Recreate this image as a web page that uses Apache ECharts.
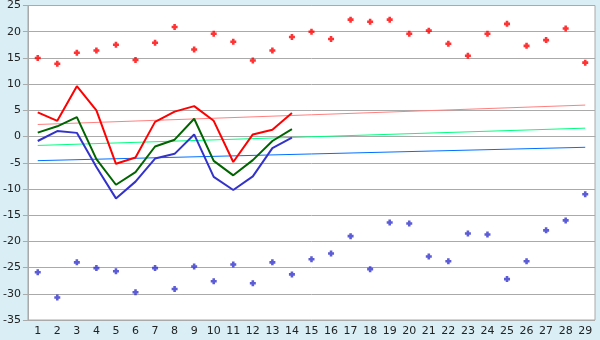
<!DOCTYPE html>
<html><head><meta charset="utf-8">
<script src="https://cdn.jsdelivr.net/npm/echarts@6/dist/echarts.min.js"></script>
<style>html,body{margin:0;padding:0;background:#d9eef5;}#c{width:600px;height:340px;}</style>
</head><body><div id="c"></div>
<script>
var categories = ['1','2','3','4','5','6','7','8','9','10','11','12','13','14','15','16','17','18','19','20','21','22','23','24','25','26','27','28','29'];
var maxPoints = [15.0,13.9,16.0,16.4,17.5,14.6,17.9,20.9,16.6,19.6,18.1,14.5,16.4,19.0,20.0,18.6,22.3,21.9,22.3,19.6,20.2,17.7,15.4,19.6,21.5,17.3,18.4,20.6,14.1];
var minPoints = [-25.9,-30.7,-24.0,-25.1,-25.7,-29.7,-25.1,-29.1,-24.8,-27.6,-24.4,-28.0,-24.0,-26.3,-23.4,-22.3,-19.0,-25.3,-16.4,-16.6,-22.9,-23.8,-18.5,-18.7,-27.2,-23.8,-17.9,-16.0,-11.0];
var redLine = [4.6,3.0,9.6,5.0,-5.2,-4.0,2.8,4.75,5.8,3.0,-4.85,0.4,1.3,4.5];
var greenLine = [0.75,1.95,3.7,-4.3,-9.2,-6.8,-1.9,-0.6,3.4,-4.65,-7.4,-4.5,-0.85,1.4];
var blueLine = [-0.85,1.05,0.7,-5.8,-11.8,-8.6,-4.2,-3.3,0.4,-7.7,-10.2,-7.6,-2.2,-0.2];
var trendRed = [2.3,6.0];
var trendGreen = [-1.7,1.6];
var trendBlue = [-4.6,-2.05];
var yTicks = {min:-35,max:25,interval:5};

function trend(arr){return [[categories[0],arr[0]],[categories[categories.length-1],arr[1]]];}

var marker = 'path://M2,0H5V2H7V5H5V7H2V5H0V2H2Z';
var chart = echarts.init(document.getElementById('c'));
var font = {fontFamily:'DejaVu Sans',fontSize:11,color:'#222'};
chart.setOption({
  backgroundColor:'#d9eef5',
  animation:false,
  grid:{left:27,right:5,top:5,bottom:20,show:true,backgroundColor:'#ffffff',borderColor:'#aaaaaa',borderWidth:1},
  xAxis:{type:'category',data:categories,boundaryGap:true,
    axisLine:{lineStyle:{color:'#aaaaaa'}},
    axisTick:{alignWithLabel:true,length:5,lineStyle:{color:'#222'}},
    axisLabel:Object.assign({margin:6,interval:0},font),
    splitLine:{show:false}},
  yAxis:{type:'value',min:yTicks.min,max:yTicks.max,interval:yTicks.interval,
    axisLine:{show:true,lineStyle:{color:'#aaaaaa'}},
    axisTick:{show:true,length:5,lineStyle:{color:'#aaaaaa'}},
    axisLabel:Object.assign({margin:7},font),
    splitLine:{lineStyle:{color:'#aaaaaa',width:1}}},
  series:[
    {type:'line',data:trend(trendRed),symbol:'none',lineStyle:{color:'#ff8080',width:1},z:1},
    {type:'line',data:trend(trendGreen),symbol:'none',lineStyle:{color:'#00ff80',width:1},z:1},
    {type:'line',data:trend(trendBlue),symbol:'none',lineStyle:{color:'#0070ff',width:1},z:1},
    {type:'line',data:redLine,symbol:'none',lineStyle:{color:'#ff0000',width:2},z:3},
    {type:'line',data:greenLine,symbol:'none',lineStyle:{color:'#006400',width:2},z:3},
    {type:'line',data:blueLine,symbol:'none',lineStyle:{color:'#3333cc',width:2},z:3},
    {type:'scatter',data:maxPoints,symbol:marker,symbolSize:6,itemStyle:{color:'#ff0000'},z:4},
    {type:'scatter',data:minPoints,symbol:marker,symbolSize:6,itemStyle:{color:'#3333cc'},z:4}
  ]
});
</script></body></html>
